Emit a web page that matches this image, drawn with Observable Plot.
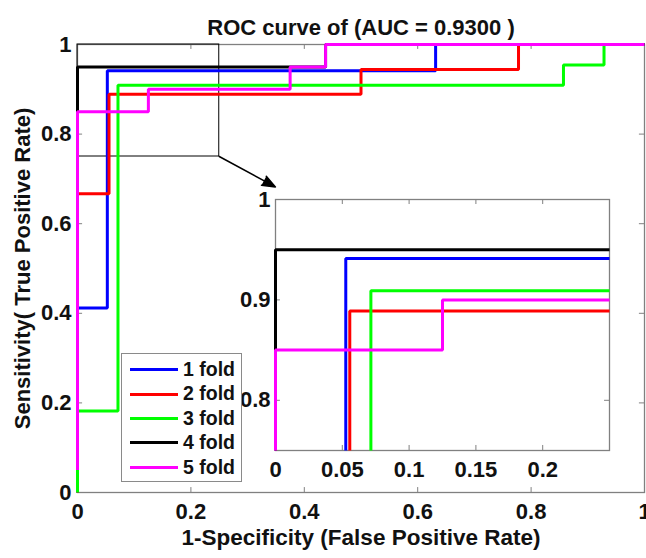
<!DOCTYPE html>
<html>
<head>
<meta charset="utf-8">
<script src="https://cdn.jsdelivr.net/npm/d3@7"></script>
<script src="https://cdn.jsdelivr.net/npm/@observablehq/plot@0.6"></script>
<style>
  body { margin: 0; background: #fff; }
  #chart { position: relative; width: 646px; height: 558px; font-family: "Liberation Sans", Arial, Helvetica, sans-serif; overflow: hidden; }
  #chart svg { position: absolute; }
  .legend { position: absolute; left: 121px; top: 353px; width: 121px; height: 129px; box-sizing: border-box;
            border: 1.4px solid #8a8a8a; background: #fff; padding-top: 3.5px; }
  .legend .row { height: 24.4px; display: flex; align-items: center; }
  .legend .sw { width: 48px; height: 3px; margin-left: 8px; }
  .legend .lab { margin-left: 5px; font-size: 19.5px; font-weight: bold; color: #111; line-height: 1; }
</style>
</head>
<body>
<div id="chart"></div>
<script>
// ---- text ----
const title = "ROC curve of (AUC = 0.9300 )";
const xLabel = "1-Specificity (False Positive Rate)";
const yLabel = "Sensitivity( True Positive Rate)";

// ---- series ----
const folds  = ["1 fold", "2 fold", "3 fold", "4 fold", "5 fold"];
const colors = ["#0000ff", "#ff0000", "#00ff00", "#000000", "#ff00ff"];

const fpr1 = [0, 0, 0.0526, 0.0526, 0.6316, 0.6316, 1];
const tpr1 = [0, 0.4118, 0.4118, 0.9412, 0.9412, 1, 1];
const fpr2 = [0, 0, 0.0556, 0.0556, 0.5, 0.5, 0.7778, 0.7778, 1];
const tpr2 = [0, 0.6667, 0.6667, 0.8889, 0.8889, 0.9444, 0.9444, 1, 1];
const fpr3 = [0, 0, 0.0714, 0.0714, 0.8571, 0.8571, 0.9286, 0.9286, 1];
const tpr3 = [0, 0.1818, 0.1818, 0.9091, 0.9091, 0.9545, 0.9545, 1, 1];
const fpr4 = [0, 0, 0.4375, 0.4375, 1];
const tpr4 = [0.05, 0.95, 0.95, 1, 1];
const fpr5 = [0, 0, 0.125, 0.125, 0.375, 0.375, 0.4375, 0.4375, 1];
const tpr5 = [0.05, 0.85, 0.85, 0.9, 0.9, 0.95, 0.95, 1, 1];

// ---- ticks / domains ----
const mainTicks   = [0, 0.2, 0.4, 0.6, 0.8, 1];
const insetXTicks = [0, 0.05, 0.1, 0.15, 0.2];
const insetYTicks = [0.8, 0.9, 1];
const insetXDomain = [0, 0.25];
const insetYDomain = [0.75, 1];
const arrowEnd = [0.349, 0.682];

// ---- build table ----
const fprs = [fpr1, fpr2, fpr3, fpr4, fpr5];
const tprs = [tpr1, tpr2, tpr3, tpr4, tpr5];
const rows = [];
fprs.forEach((f, i) => f.forEach((x, j) => rows.push({fold: folds[i], x, y: tprs[i][j]})));

const font = "Liberation Sans, Arial, Helvetica, sans-serif";
const axisGray = "#808080";
const ink = "#111";
const fs = 22;
const fmt = d => String(d);
const zoomBox = [{x1: insetXDomain[0], x2: insetXDomain[1], y1: insetYDomain[0], y2: insetYDomain[1]}];
const arrowRow = [{x1: insetXDomain[1], y1: insetYDomain[0], x2: arrowEnd[0], y2: arrowEnd[1]}];

const inner = mainTicks.slice(1, -1);

const main = Plot.plot({
  width: 646, height: 558,
  marginLeft: 77, marginRight: 2, marginTop: 44, marginBottom: 66,
  style: {fontFamily: font, background: "transparent", overflow: "visible"},
  x: {domain: [0, 1]},
  y: {domain: [0, 1]},
  color: {domain: folds, range: colors},
  marks: [
    Plot.frame({stroke: axisGray, strokeWidth: 1.3}),
    Plot.ruleX(inner, {x: d => d, y1: 0, y2: 0.011, stroke: axisGray}),
    Plot.ruleX(inner, {x: d => d, y1: 1, y2: 0.989, stroke: axisGray}),
    Plot.ruleY(inner, {y: d => d, x1: 0, x2: 0.009, stroke: axisGray}),
    Plot.ruleY(inner, {y: d => d, x1: 1, x2: 0.991, stroke: axisGray}),
    Plot.axisX(mainTicks, {tickSize: 0, tickPadding: 11, fontSize: fs, fontWeight: "bold", fill: ink, tickFormat: fmt, label: null}),
    Plot.axisY(mainTicks, {tickSize: 0, tickPadding: 6, fontSize: fs, fontWeight: "bold", fill: ink, tickFormat: fmt, label: null}),
    Plot.rect(zoomBox, {x1: "x1", x2: "x2", y1: "y1", y2: "y2", stroke: "#000", fill: "none", strokeWidth: 1}),
    Plot.line(rows, {x: "x", y: "y", z: "fold", stroke: "fold", strokeWidth: 3, strokeLinejoin: "miter", strokeLinecap: "butt"}),
    Plot.arrow(arrowRow, {x1: "x1", y1: "y1", x2: "x2", y2: "y2", stroke: "#000", strokeWidth: 1.5, headLength: 14, headAngle: 42}),
    Plot.text([title], {frameAnchor: "top", dy: -25, fontSize: fs, fontWeight: "bold", fill: ink}),
    Plot.text([xLabel], {frameAnchor: "bottom", dy: 52, fontSize: 22.5, fontWeight: "bold", fill: ink}),
    Plot.text([yLabel], {frameAnchor: "left", dx: -55, rotate: -90, textAnchor: "middle", fontSize: 22, fontWeight: "bold", fill: ink})
  ]
});
main.style.left = "0px";
main.style.top = "0px";
// filled arrow head, as in the reference
d3.select(main).selectAll('g[aria-label="arrow"] path').attr("fill", "#000");

// ---- inset ----
const iml = 50, imr = 5, imt = 15, imb = 41, iw = 389, ih = 307;
const inInner = insetXTicks.slice(1);
const inYInner = insetYTicks.slice(0, -1);
const inset = Plot.plot({
  width: iw, height: ih,
  marginLeft: iml, marginRight: imr, marginTop: imt, marginBottom: imb,
  style: {fontFamily: font, background: "transparent", overflow: "visible"},
  x: {domain: insetXDomain},
  y: {domain: insetYDomain},
  color: {domain: folds, range: colors},
  marks: [
    Plot.frame({fill: "white", stroke: axisGray, strokeWidth: 1.3}),
    Plot.ruleX(inInner, {x: d => d, y1: 0.75, y2: 0.755, stroke: axisGray}),
    Plot.ruleX(inInner, {x: d => d, y1: 1, y2: 0.995, stroke: axisGray}),
    Plot.ruleY(inYInner, {y: d => d, x1: 0, x2: 0.0037, stroke: axisGray}),
    Plot.ruleY(inYInner, {y: d => d, x1: 0.25, x2: 0.2463, stroke: axisGray}),
    Plot.axisX(insetXTicks, {tickSize: 0, tickPadding: 11, fontSize: fs, fontWeight: "bold", fill: ink, tickFormat: fmt, label: null}),
    Plot.axisY(insetYTicks, {tickSize: 0, tickPadding: 5, fontSize: fs, fontWeight: "bold", fill: ink, tickFormat: fmt, label: null}),
    Plot.line(rows, {x: "x", y: "y", z: "fold", stroke: "fold", strokeWidth: 3, strokeLinejoin: "miter", strokeLinecap: "butt"})
  ]
});
inset.style.left = "225px";
inset.style.top = "184px";
// clip inset lines to the axes box (slightly widened on the left so x=0 lines show fully)
const isel = d3.select(inset);
isel.append("defs").append("clipPath").attr("id", "insetClip")
  .append("rect").attr("x", iml - 2).attr("y", imt - 2)
  .attr("width", iw - iml - imr + 2).attr("height", ih - imt - imb + 2);
isel.selectAll('g[aria-label="line"]').attr("clip-path", "url(#insetClip)");

const chart = document.getElementById("chart");
chart.appendChild(main);
chart.appendChild(inset);

// ---- legend ----
const legend = document.createElement("div");
legend.className = "legend";
folds.forEach((f, i) => {
  const r = document.createElement("div");
  r.className = "row";
  const s = document.createElement("span");
  s.className = "sw"; s.style.background = colors[i];
  const t = document.createElement("span");
  t.className = "lab"; t.textContent = f;
  r.appendChild(s); r.appendChild(t);
  legend.appendChild(r);
});
chart.appendChild(legend);
</script>
</body>
</html>
